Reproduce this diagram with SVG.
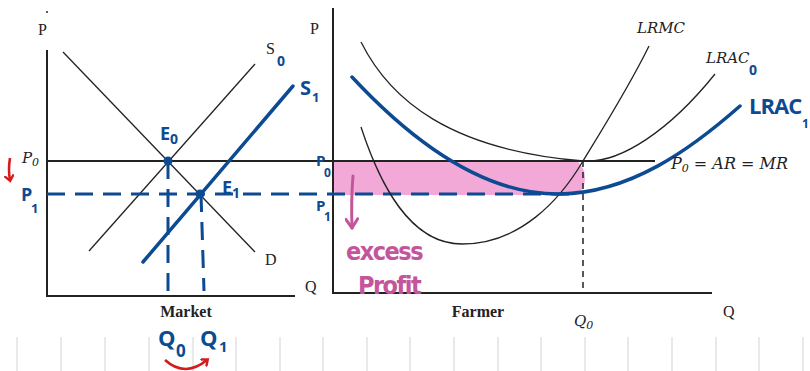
<svg xmlns="http://www.w3.org/2000/svg" width="810" height="371" viewBox="0 0 810 371">
<defs>
<style>
.ax{stroke:#222;stroke-width:2;fill:none}
.thin{stroke:#222;stroke-width:1.3;fill:none}
.blue{stroke:#0c4a91;stroke-width:3.5;fill:none;stroke-linecap:round}
.bdash{stroke:#0c4a91;stroke-width:3;fill:none;stroke-dasharray:18 10}
.kdash{stroke:#222;stroke-width:1.5;fill:none;stroke-dasharray:6 5}
.grid{stroke:#e2e2e2;stroke-width:1.5}
.serif{font-family:"Liberation Serif",serif;fill:#222}
.math{font-family:"DejaVu Serif","Liberation Serif",serif;font-style:italic;fill:#222}
.hand{font-family:"Open Sans","DejaVu Sans",sans-serif;font-weight:700;fill:#0c4a91}
.pinkt{font-family:"DejaVu Sans",sans-serif;font-weight:700;font-stretch:condensed;fill:#c4559b}
</style>
<marker id="pinkArrow" markerWidth="14" markerHeight="14" refX="12" refY="7" orient="auto" markerUnits="userSpaceOnUse" viewBox="0 0 14 14"><path d="M3,1 L12,7 L3,13" fill="none" stroke="#c4559b" stroke-width="3" stroke-linecap="round" stroke-linejoin="round"/></marker>
<marker id="redArrow" markerWidth="10" markerHeight="10" refX="5" refY="5" orient="auto" markerUnits="userSpaceOnUse" viewBox="0 0 10 10"><path d="M1,1 L6,5 L1,9" fill="none" stroke="#d41c1c" stroke-width="2.4" stroke-linecap="round"/></marker>
</defs>
<rect width="810" height="371" fill="#ffffff"/>
<g id="grid">
<line class="grid" x1="17" y1="337" x2="17" y2="371"/><line class="grid" x1="61" y1="337" x2="61" y2="371"/><line class="grid" x1="105" y1="337" x2="105" y2="371"/><line class="grid" x1="149" y1="337" x2="149" y2="371"/><line class="grid" x1="193" y1="337" x2="193" y2="371"/><line class="grid" x1="236" y1="337" x2="236" y2="371"/><line class="grid" x1="280" y1="337" x2="280" y2="371"/><line class="grid" x1="323" y1="337" x2="323" y2="371"/><line class="grid" x1="367" y1="337" x2="367" y2="371"/><line class="grid" x1="410" y1="337" x2="410" y2="371"/><line class="grid" x1="454" y1="337" x2="454" y2="371"/><line class="grid" x1="498" y1="337" x2="498" y2="371"/><line class="grid" x1="541" y1="337" x2="541" y2="371"/><line class="grid" x1="585" y1="337" x2="585" y2="371"/><line class="grid" x1="628" y1="337" x2="628" y2="371"/><line class="grid" x1="672" y1="337" x2="672" y2="371"/><line class="grid" x1="716" y1="337" x2="716" y2="371"/><line class="grid" x1="759" y1="337" x2="759" y2="371"/><line class="grid" x1="803" y1="337" x2="803" y2="371"/>
</g>
<g id="profit-area">
<path d="M333,162 L578,162 Q585,168 585,178 Q585,190 576,195 L342,195 Q333,195 333,186 Z" fill="#f2a9d8"/>
</g>
<g id="market-axes">
<circle cx="47" cy="12" r="1" fill="#222"/>
<text class="serif" x="38" y="35" font-size="16">P</text>
<polyline class="ax" points="47,50 47,296 295,296"/>
<text class="serif" x="305" y="292" font-size="16">Q</text>
<text class="serif" x="186" y="317" font-size="16" font-weight="700" text-anchor="middle">Market</text>
</g>
<g id="farmer-axes">
<text class="serif" x="310" y="34" font-size="16">P</text>
<polyline class="ax" points="333,8 333,293 712,293"/>
<text class="serif" x="478" y="317" font-size="16" font-weight="700" text-anchor="middle">Farmer</text>
<text class="serif" x="723" y="317" font-size="16">Q</text>
</g>
<g id="connectors">
<line class="ax" x1="47" y1="161" x2="655" y2="161" stroke-width="1.8"/>
<line class="thin" x1="63" y1="52" x2="255" y2="252"/>
<line class="thin" x1="89" y1="251" x2="255" y2="64"/>
<line class="blue" x1="143" y1="262" x2="293" y2="86"/>
<line class="bdash" x1="47" y1="194" x2="572" y2="194"/>
<line class="bdash" x1="168" y1="161" x2="168" y2="297"/>
<line class="bdash" x1="201" y1="194" x2="204" y2="291"/>
<line class="kdash" x1="583" y1="161" x2="583" y2="293"/>
<path class="thin" d="M361,42 C390,100 450,150 583,161 C620,164 670,130 715,74"/>
<path class="thin" d="M361,127 C380,185 410,244 462,244 C520,244 560,200 583,161 C605,125 630,85 649,46"/>
<path class="blue" d="M352,77 C420,150 490,195 560,194 C630,193 690,150 740,106"/>
<path d="M353,176 Q351,200 352,228" fill="none" stroke="#c4559b" stroke-width="3" stroke-linecap="round" marker-end="url(#pinkArrow)"/>
<path d="M10,158 Q8,170 10,180" fill="none" stroke="#d41c1c" stroke-width="2.6" marker-end="url(#redArrow)"/>
<path d="M165,360 Q185,378 207,360" fill="none" stroke="#d41c1c" stroke-width="2.6" marker-end="url(#redArrow)"/>
</g>
<g id="E0"><circle cx="168" cy="161" r="4.5" fill="#0c4a91"/><text class="hand" x="160" y="140" font-size="18">E<tspan font-size="14" dy="4">0</tspan></text></g>
<g id="E1"><circle cx="200" cy="194" r="4.5" fill="#0c4a91"/><text class="hand" x="222" y="194" font-size="18">E<tspan font-size="14" dy="4">1</tspan></text></g>
<g id="labels-market">
<text class="serif" x="266" y="54" font-size="16">S</text><text class="hand" x="277" y="66" font-size="14">0</text>
<text class="hand" x="300" y="95" font-size="20">S</text><text class="hand" x="312" y="102" font-size="13">1</text>
<text class="math" x="22" y="163" font-size="15">P<tspan font-size="11" dy="3">0</tspan></text>
<text class="hand" x="21" y="201" font-size="18">P</text><text class="hand" x="31" y="213" font-size="13">1</text>
<text class="hand" x="158" y="346" font-size="22">Q</text><text class="hand" x="176" y="357" font-size="17">0</text>
<text class="hand" x="200" y="346" font-size="22">Q</text><text class="hand" x="219" y="352" font-size="15">1</text>
<text class="serif" x="265" y="265" font-size="16">D</text>
</g>
<g id="labels-farmer">
<text class="hand" x="316" y="166" font-size="15">P</text><text class="hand" x="324" y="177" font-size="12">0</text>
<text class="hand" x="316" y="211" font-size="15">P</text><text class="hand" x="324" y="221" font-size="12">1</text>
<text class="math" x="637" y="33" font-size="15">LRMC</text>
<text class="math" x="706" y="63" font-size="15">LRAC</text><text class="hand" x="749" y="75" font-size="14">0</text>
<text class="hand" x="749" y="114" font-size="22" letter-spacing="-1">LRAC</text><text class="hand" x="802" y="128" font-size="12">1</text>
<text class="math" x="671" y="169" font-size="16">P<tspan font-size="11" dy="3">0</tspan><tspan dy="-3"> = AR = MR</tspan></text>
<text class="math" x="574" y="326" font-size="15">Q<tspan font-size="11" dy="3">0</tspan></text>
<text class="pinkt" x="346" y="260" font-size="25" letter-spacing="-1.5">excess</text>
<text class="pinkt" x="358" y="294" font-size="25" letter-spacing="-1.5">Profit</text>
</g>
</svg>
